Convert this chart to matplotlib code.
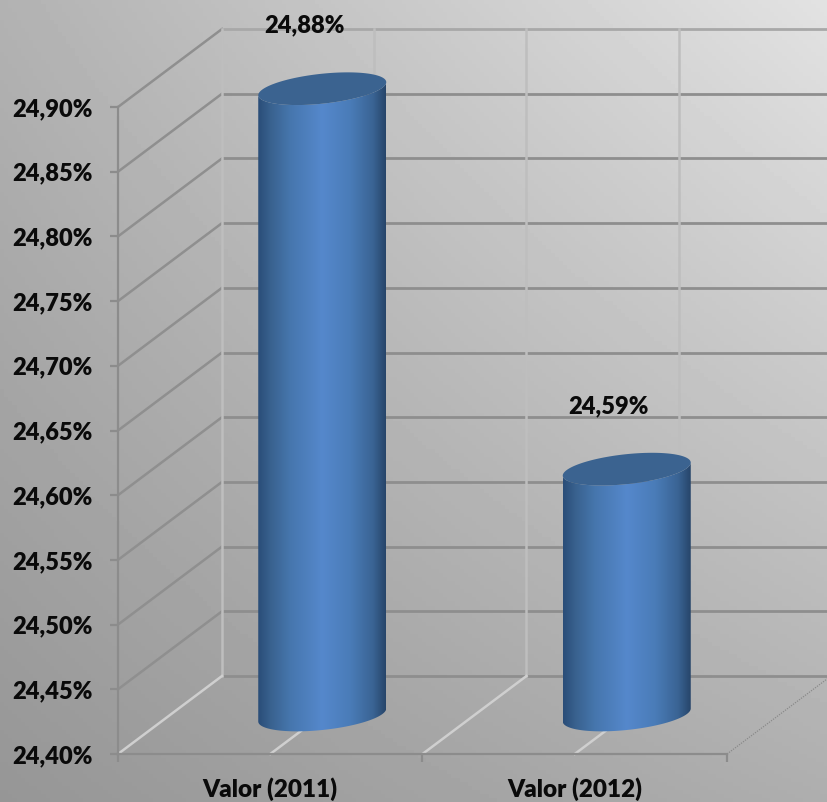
import numpy as np
import matplotlib
matplotlib.use("Agg")
import matplotlib.pyplot as plt
from matplotlib.colors import LinearSegmentedColormap
from matplotlib.patches import Polygon

categories = ["Valor (2011)", "Valor (2012)"]
values = [24.884, 24.59]
y_ticks = [24.40, 24.45, 24.50, 24.55, 24.60, 24.65, 24.70, 24.75, 24.80, 24.85, 24.90]

W, H = 828, 802
# depth of the fake 3d box, in data units
DX = 104 / 304.5
DY = 78 / 1294
BAR_W = 64 / 304.5
ELL_H = 15 / 1294
ELL_TILT = 6.5 / 1294


def pct(v):
    return f"{v:.2f}%".replace(".", ",")


def back(x, y, d=1.0):
    return x + d * DX, y + d * DY


def ellipse(cx, cy, t):
    return cx + BAR_W * np.cos(t), cy + ELL_H * np.sin(t) + ELL_TILT * np.cos(t)


plt.rcParams["font.family"] = ["Lato", "DejaVu Sans"]
plt.rcParams["font.weight"] = "heavy"
fig = plt.figure(figsize=(W / 100, H / 100), dpi=100)

# background gradient, dark lower left to light upper right
bg = fig.add_axes([0, 0, 1, 1], zorder=0)
u, v = np.meshgrid(np.linspace(0, 1, 200), np.linspace(0, 1, 200))
shade = (0xb2 * (1 - u) * (1 - v) + 0xe2 * u * (1 - v)
         + 0x96 * (1 - u) * v + 0xae * u * v)
bg.imshow(shade, cmap="gray", vmin=0, vmax=255, aspect="auto", extent=[0, 1, 0, 1], origin="upper")
bg.axis("off")

ax = fig.add_axes([118 / W, (H - 754) / H, 609 / W, 647 / H], zorder=1)
ax.patch.set_visible(False)

wall_grey = "#8e8e8e"
for i, y in enumerate(y_ticks):
    x0, y0 = back(0, y)
    x1, y1 = back(2, y)
    col = "#a8a8a8" if i == len(y_ticks) - 1 else wall_grey
    ax.plot([x0, x1], [y0, y1], color=col, lw=2.0, clip_on=False, zorder=1)
    if i > 0:
        ax.plot([0, x0], [y, y0], color="#8f8f8f", lw=1.8, clip_on=False, zorder=1)

for x in [0, 0.5, 1, 1.5]:
    x0, y0 = back(x, y_ticks[0])
    x1, y1 = back(x, y_ticks[-1])
    ax.plot([x0, x1], [y0, y1], color="#bebebe", lw=1.8, clip_on=False, zorder=1.2)
    ax.plot([x, x0], [y_ticks[0], y0], color="#cfcfcf", lw=1.8, clip_on=False, zorder=1.2)

x2, y2 = back(2, y_ticks[0])
ax.plot([2, x2], [y_ticks[0], y2], color="#8a8a8a", lw=0.9, ls=(0, (1, 1)), clip_on=False, zorder=1.2)

body_cmap = LinearSegmentedColormap.from_list(
    "cyl", [(0, "#2a4d78"), (0.1, "#39628f"), (0.25, "#4676ad"), (0.5, "#5588cc"),
            (0.72, "#4a7cb8"), (0.9, "#3a6494"), (1, "#27456a")])

t_low = np.linspace(np.pi, 2 * np.pi, 80)
t_all = np.linspace(0, 2 * np.pi, 160)
for i, val in enumerate(values):
    cx, base = back(i + 0.5, y_ticks[0], 0.5)
    _, top = back(i + 0.5, val, 0.5)

    bx, by = ellipse(cx, base, t_low)
    tx, ty = ellipse(cx, top, t_low[::-1])
    outline = Polygon(np.column_stack([np.r_[bx, tx], np.r_[by, ty]]), closed=True,
                      transform=ax.transData, fc="none", ec="none", clip_on=False)
    ax.add_patch(outline)
    grad = np.linspace(0, 1, 256).reshape(1, -1)
    im = ax.imshow(grad, cmap=body_cmap, aspect="auto", zorder=3,
                   extent=[cx - BAR_W, cx + BAR_W, base - 2 * ELL_H - ELL_TILT, top + 2 * ELL_H + ELL_TILT])
    im.set_clip_path(outline)
    im.set_clip_box(fig.bbox)

    ex, ey = ellipse(cx, top, t_all)
    ax.fill(ex, ey, color="#3b6390", lw=0, zorder=3.5, clip_on=False)

    ax.annotate(pct(round(val, 2)), xy=(i + 0.5, val), xytext=(34, 102), textcoords="offset pixels",
                ha="center", va="center", fontsize=17, color="#0a0a0a",
                annotation_clip=False, zorder=5)

ax.set_xlim(0, 2)
ax.set_ylim(y_ticks[0], y_ticks[-1])

ax.set_yticks(y_ticks)
ax.set_yticklabels([pct(t) for t in y_ticks])
ax.set_xticks([0, 1, 2])
ax.set_xticklabels([])
ax.set_xticks([0.5, 1.5], minor=True)
ax.set_xticklabels(categories, minor=True)
ax.tick_params(axis="y", length=6, width=1.6, color="#8c8c8c", labelsize=17, pad=12.5, labelcolor="#0a0a0a")
ax.tick_params(axis="x", which="major", length=6, width=1.6, color="#8c8c8c")
ax.tick_params(axis="x", which="minor", length=0, labelsize=17.5, pad=17, labelcolor="#0a0a0a")
for s in ["top", "right"]:
    ax.spines[s].set_visible(False)
for s in ["left", "bottom"]:
    ax.spines[s].set_color("#8c8c8c")
    ax.spines[s].set_linewidth(1.6)

fig.savefig("out.png", dpi=100)
